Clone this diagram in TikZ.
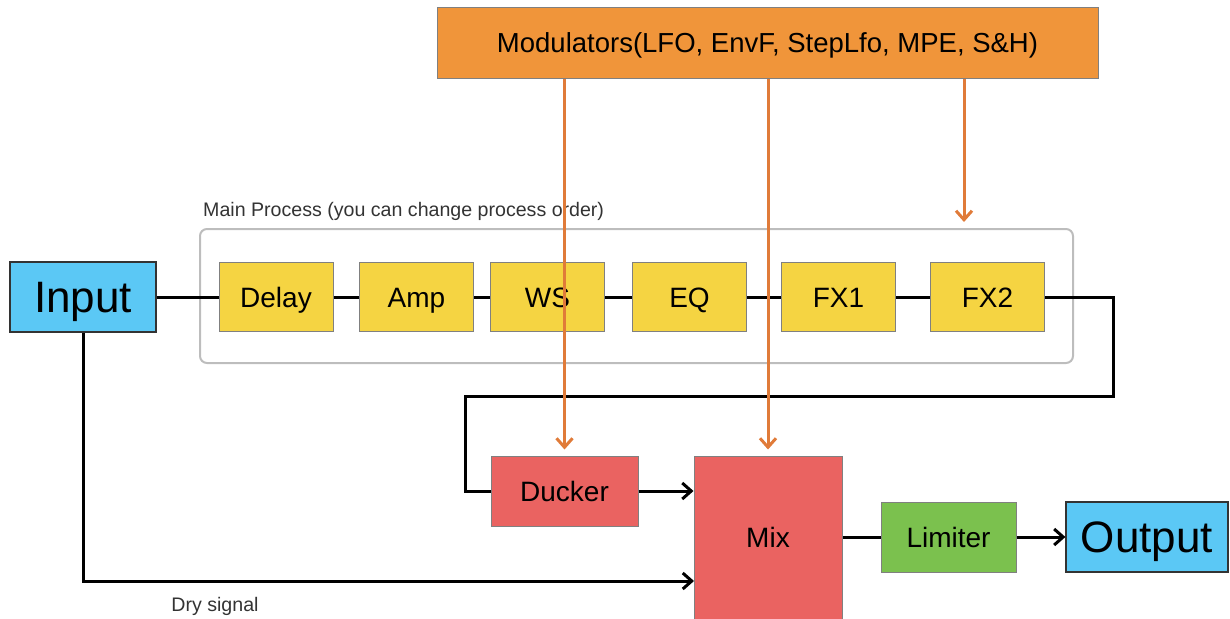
\documentclass[tikz,border=0pt]{standalone}
\usepackage{fontspec}
\setmainfont{Liberation Sans}
\usetikzlibrary{arrows.meta}
\definecolor{inblue}{HTML}{5BC8F5}
\definecolor{procyellow}{HTML}{F5D442}
\definecolor{modorange}{HTML}{F0953A}
\definecolor{modline}{HTML}{E07B39}
\definecolor{mixred}{HTML}{EA6361}
\definecolor{limgreen}{HTML}{7BC14E}
\definecolor{bordergray}{HTML}{808080}
\definecolor{groupgray}{HTML}{BDBDBD}
\definecolor{textgray}{HTML}{333333}
\begin{document}
\begin{tikzpicture}[x=1pt,y=-1pt,
  box/.style={draw=bordergray, line width=1pt, inner sep=0pt, minimum width=114, minimum height=69, font=\fontsize{28}{32}\selectfont, text height=20pt, text depth=0pt},
  procbox/.style={box, fill=procyellow},
  redbox/.style={box, fill=mixred},
  iobox/.style={draw=textgray, line width=1.2pt, fill=inblue, inner sep=0pt, minimum height=70, font=\fontsize{44}{48}\selectfont, text height=31.5pt, text depth=0pt},
  groupbox/.style={draw=groupgray, line width=2pt, rounded corners=7pt, inner sep=0pt},
  sig/.style={draw=black, line width=3pt},
  sigarr/.style={sig, -{Straight Barb[length=9pt,width=16pt,line width=3pt]}},
  modarr/.style={draw=modline, line width=3pt, -{Straight Barb[length=9pt,width=16pt,line width=3pt]}},
  smalltext/.style={font=\fontsize{19.6}{22}\selectfont, text=textgray, inner sep=0pt}
]
\useasboundingbox (0,0) rectangle (1230,618);

% group
\node[groupbox, minimum width=873, minimum height=134] (group) at (636.5,296) {};
\node[smalltext, anchor=west] (grouplabel) at (203,211) {Main Process (you can change process order)};

% modulators
\node[box, fill=modorange, minimum width=661, minimum height=70, font=\fontsize{27.5}{30}\selectfont, text height=19.7pt] (mod) at (767.5,43) {Modulators(LFO, EnvF, StepLfo, MPE, S\&H)};

% input / output
\node[iobox, minimum width=146] (input) at (83,297) {Input};
\node[iobox, minimum width=162] (output) at (1147,537) {Output};

% process chain
\node[procbox] (delay) at (276,297) {Delay};
\node[procbox] (amp) at (416.5,297) {Amp};
\node[procbox] (ws) at (547.5,297) {WS};
\node[procbox] (eq) at (689.5,297) {EQ};
\node[procbox] (fx1) at (838.5,297) {FX1};
\node[procbox] (fx2) at (987.5,297) {FX2};

% ducker / mix / limiter
\node[redbox, minimum width=147, minimum height=70] (ducker) at (564.5,491) {Ducker};
\node[redbox, minimum width=148, minimum height=180, text depth=18pt] (mix) at (768,546) {Mix};
\node[box, fill=limgreen, minimum width=135, minimum height=70] (limiter) at (948.5,537) {Limiter};

\node[smalltext] (drylabel) at (215,606) {Dry signal};

% coordinates
\coordinate (r1) at (1113,396);
\coordinate (l1) at (465,396);
\coordinate (dryin) at (694,581);
\coordinate (m3) at (964,229);

% signal lines
\draw[sig] (input.east) -- (delay.west);
\draw[sig] (delay.east) -- (amp.west);
\draw[sig] (amp.east) -- (ws.west);
\draw[sig] (ws.east) -- (eq.west);
\draw[sig] (eq.east) -- (fx1.west);
\draw[sig] (fx1.east) -- (fx2.west);
\draw[sig] (fx2.east) -| (r1) -- (l1) |- (ducker.west);
\draw[sigarr] (ducker.east) -- (ducker.east -| mix.west);
\draw[sigarr] (input.south) |- (dryin);
\draw[sig] (mix.east |- limiter.west) -- (limiter.west);
\draw[sigarr] (limiter.east) -- (output.west);

% modulation lines
\draw[modarr, shorten >=6pt] (mod.south -| ducker.north) -- (ducker.north);
\draw[modarr, shorten >=6pt] (mod.south -| mix.north) -- (mix.north);
\draw[modarr, shorten >=7pt] (mod.south -| m3) -- (m3);
\end{tikzpicture}
\end{document}
